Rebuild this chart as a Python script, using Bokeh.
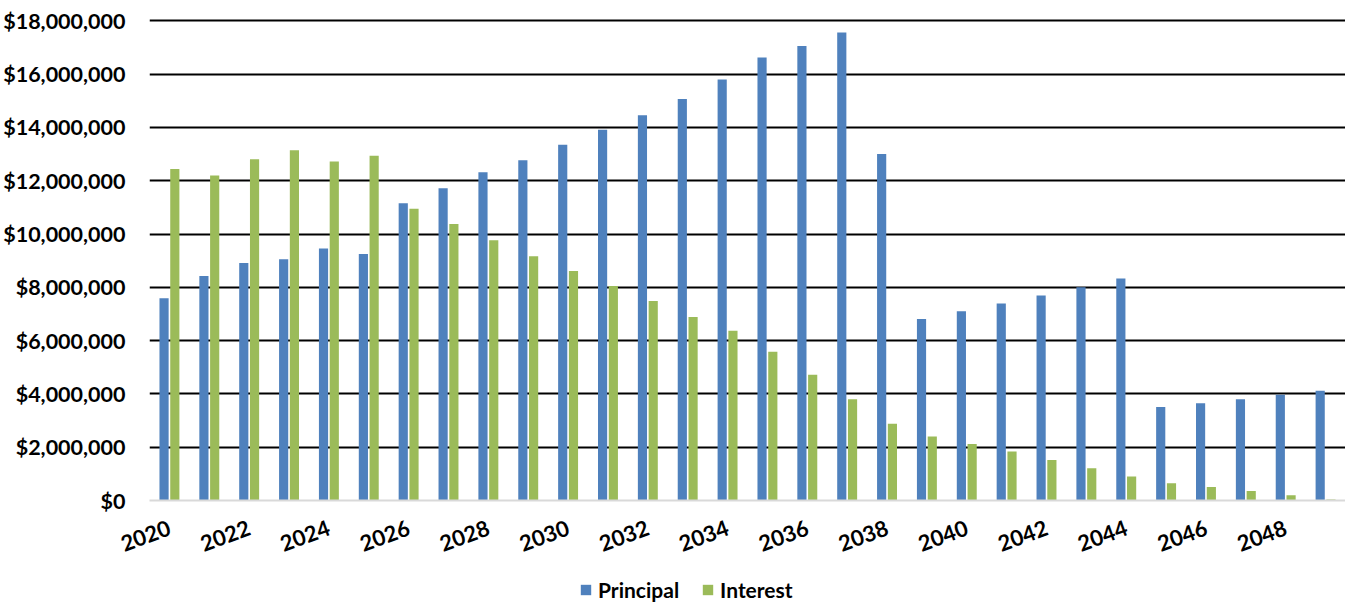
import math
from bokeh.plotting import figure
from bokeh.layouts import column
from bokeh.models import (ColumnDataSource, Range1d, FixedTicker, NumeralTickFormatter,
                          Legend, LegendItem)
from bokeh.transform import dodge
from bokeh.embed import file_html
from bokeh.resources import INLINE

years = list(range(2020, 2050))
principal = [7.59, 8.42, 8.91, 9.05, 9.46, 9.25, 11.15, 11.72, 12.32, 12.77,
             13.35, 13.91, 14.46, 15.07, 15.80, 16.62, 17.06, 17.56, 13.00, 6.81,
             7.10, 7.39, 7.69, 8.00, 8.33, 3.51, 3.65, 3.80, 3.97, 4.12]
interest = [12.44, 12.20, 12.81, 13.14, 12.72, 12.94, 10.95, 10.38, 9.77, 9.17,
            8.61, 8.05, 7.49, 6.89, 6.37, 5.58, 4.72, 3.80, 2.88, 2.40,
            2.12, 1.84, 1.52, 1.21, 0.90, 0.65, 0.51, 0.36, 0.20, 0.04]
tick_years = list(range(2020, 2050, 2))
y_ticks = [i * 2_000_000 for i in range(10)]
series_names = ["Principal", "Interest"]

src = ColumnDataSource(dict(
    year=years,
    principal=[v * 1e6 for v in principal],
    interest=[v * 1e6 for v in interest],
))

FONT = "Lato"
BLUE = "#4F81BD"
GREEN = "#9BBB59"

p = figure(width=1345, height=577, output_backend="svg", toolbar_location=None,
           x_range=Range1d(2019.5, 2049.5), y_range=Range1d(0, 18.2e6),
           min_border_left=145, min_border_right=0, min_border_top=15,
           min_border_bottom=77)
p.outline_line_color = None
p.background_fill_color = "white"
p.border_fill_color = "white"

p.vbar(x=dodge("year", -0.135, range=p.x_range), top="principal", width=0.23,
       source=src, fill_color=BLUE, line_color=None)
p.vbar(x=dodge("year", 0.135, range=p.x_range), top="interest", width=0.23,
       source=src, fill_color=GREEN, line_color=None)

p.xgrid.grid_line_color = None
p.ygrid.ticker = FixedTicker(ticks=y_ticks[1:])
p.ygrid.grid_line_color = "black"
p.ygrid.grid_line_width = 2

p.yaxis.ticker = FixedTicker(ticks=y_ticks)
p.yaxis.formatter = NumeralTickFormatter(format="$0,0")
p.yaxis.axis_line_color = None
p.yaxis.major_tick_line_color = None
p.yaxis.minor_tick_line_color = None
p.yaxis.major_label_text_font = FONT
p.yaxis.major_label_text_font_style = "bold"
p.yaxis.major_label_text_font_size = "21.5px"
p.yaxis.major_label_text_color = "black"
p.yaxis.major_label_standoff = 18

p.xaxis.ticker = FixedTicker(ticks=tick_years)
p.xaxis.axis_line_color = "#D9D9D9"
p.xaxis.axis_line_width = 2
p.xaxis.major_tick_line_color = None
p.xaxis.minor_tick_line_color = None
p.xaxis.major_label_text_font = FONT
p.xaxis.major_label_text_font_style = "bold"
p.xaxis.major_label_text_font_size = "22px"
p.xaxis.major_label_text_color = "black"
p.xaxis.major_label_orientation = math.radians(20)
p.xaxis.major_label_standoff = 20

# legend strip beneath the chart (its bars fall outside its own range)
lg = figure(width=1345, height=25, output_backend="svg", toolbar_location=None,
            x_range=Range1d(0, 1), y_range=Range1d(0, 1),
            x_axis_type=None, y_axis_type=None,
            min_border_left=145, min_border_right=0, min_border_top=0, min_border_bottom=0)
lg.outline_line_color = None
lg.xgrid.visible = False
lg.ygrid.visible = False
k1 = lg.vbar(x="year", top="principal", width=0.1, source=src,
             fill_color=BLUE, line_color=None)
k2 = lg.vbar(x="year", top="interest", width=0.1, source=src,
             fill_color=GREEN, line_color=None)
legend = Legend(items=[LegendItem(label=series_names[0], renderers=[k1]),
                       LegendItem(label=series_names[1], renderers=[k2])],
                location=(430, 0), orientation="horizontal",
                label_text_font=FONT, label_text_font_style="bold",
                label_text_font_size="21px", label_text_color="black",
                glyph_width=13, glyph_height=13, label_standoff=6, spacing=22,
                padding=0, margin=0, border_line_color=None,
                background_fill_alpha=0)
lg.add_layout(legend, "center")

open("out.html", "w").write(file_html(column(p, lg, spacing=0), INLINE))
